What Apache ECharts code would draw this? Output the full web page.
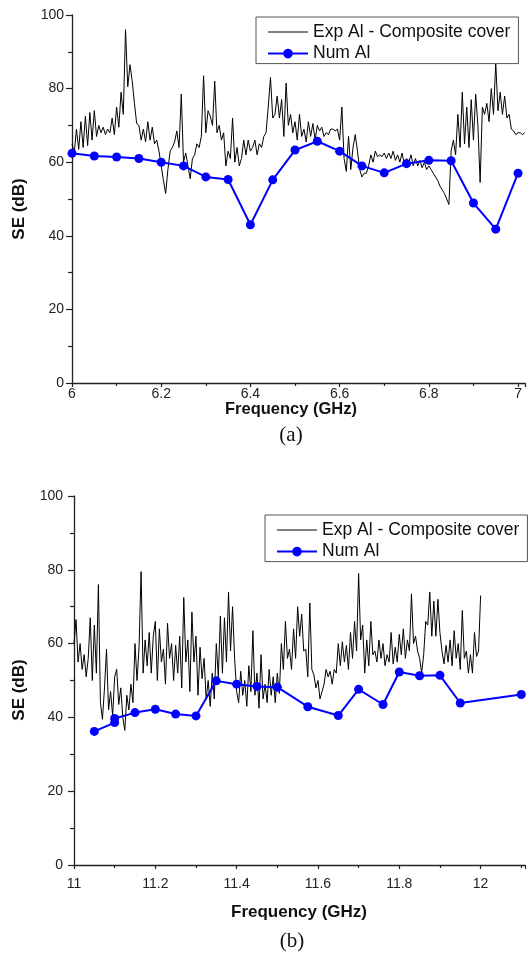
<!DOCTYPE html>
<html><head><meta charset="utf-8">
<script src="https://cdn.jsdelivr.net/npm/echarts@6/dist/echarts.min.js"></script>
<style>html,body{margin:0;padding:0;background:#fff}#c{width:528px;height:954px}</style>
</head><body><div id="c"></div>
<script>
// ---------- data ----------
const seriesNames = ['Exp Al - Composite cover', 'Num Al'];
const xTicksTop = [6, 6.2, 6.4, 6.6, 6.8, 7];
const xTicksBottom = [11, 11.2, 11.4, 11.6, 11.8, 12];
const yTicks = [0, 20, 40, 60, 80, 100];

// (a) measured sweep, 6.000 GHz onward, one reading every 0.005 GHz
const expTopStart = 6.0;
const expTopStep = 0.005;
const expTopSE = [
  65,62.5,69,63.5,71,64,72.5,64.5,73.5,66,
  74,67,70,68,69.5,67.5,69,68,72,67.5,
  75,69.5,79,73,96,80.5,86.5,82,76,70.5,
  70,66,69,65.5,71,66,69.5,65,66,63,
  59,55,51.5,58,63,64,65.5,68.5,64,78.5,
  60,62.5,59,55.5,61,62,65,64,67,83.5,
  68,74,72.5,70,82,68,70,66,68,59,
  63,61,72,60,64,59,61,66,62,66,
  63,64,66,62,65,64,67,68,75,83,
  72,73,78,72,77,67,81.5,70,73,68,
  71,66,73,67,69,65.5,71,67,70.5,66,
  70,68.5,69.5,67,68,67.5,69,69,68.5,69,
  66,75,61,57.5,67,58,64,67.5,63,58,
  56,57,57,59,62,60,63,61.5,62,61.5,
  62.5,61,62.5,61,63,60.5,62,60,62.5,59.5,
  61,60,62,59,61,59,60.5,58.5,60,58,
  59,58,57,56,55,53.5,52.5,51.5,50,48.5,
  63,66,62,73,64,79,65,75,64,77,
  66,78.5,70,54.5,75,73,76,71,80,73,
  87,74,79,73,78,72,73,69,68.5,67.5,
  68,68,67.5,68
];
// (a) numerical points
const numTopFreq = [6.0,6.05,6.1,6.15,6.2,6.25,6.3,6.35,6.4,6.45,6.5,6.55,6.6,6.65,6.7,6.75,6.8,6.85,6.9,6.95,7.0];
const numTopSE   = [62.4,61.7,61.4,61.0,60.0,59.0,56.0,55.3,43.0,55.2,63.3,65.7,63.0,59.0,57.1,59.6,60.5,60.4,48.9,41.8,57.0];

// (b) measured sweep, 11.000 GHz onward, one reading every 0.005 GHz
const expBotStart = 11.0;
const expBotStep = 0.005;
const expBotSE = [
  60,66.5,55,60,53,57,51,56,67,50,
  65,52,76,44,39.5,48,58.5,42,47,40.5,
  51,53,43.5,48,40,36.5,46,42,49,44,
  60,50,59,79.5,52,61,54,63,52,62,
  66,50,64,55,58.5,49,65.5,56,60,50,
  59.5,52,62,48,72.5,55,61,47,68.5,55,
  62,46,59,50.5,56,45,50,43,52,45,
  60,51,67.5,52,67,55,74,58,70,56,
  47,44,52.5,46,50,43,54,47,63.5,46,
  52,42.5,57,45,49,44,53,46,51,44,
  52,46.5,60,53,66,56,58.5,53,64,56,
  70,62,68,58,58.5,51,71,53,51.5,48,
  50,45,47,49,53,51,52.5,49,53,52,
  60,54,60.5,55,59.5,53,63,56,66,58,
  79,61,65,52,61,54,66,57,58,55,
  61,56,60,54,57,55,63,54.5,59,55,
  62.5,57,64,56,61,58,73.5,60,62,58,
  56,52,57,66,65,74,62,71.5,62,72,
  63,58,54.5,59.5,55,61,54,63.5,56,60,
  53,69,56,58,52,57,52,63,56.5,58,
  73
];
// (b) numerical points
const numBotFreq = [11.05,11.1,11.1,11.15,11.2,11.25,11.3,11.35,11.4,11.45,11.5,11.575,11.65,11.7,11.76,11.8,11.85,11.9,11.95,12.1];
const numBotSE   = [36.2,38.6,39.7,41.3,42.2,40.9,40.4,49.9,49.0,48.4,48.2,42.9,40.5,47.6,43.5,52.3,51.3,51.4,43.9,46.2];

// ---------- build ----------
function pairs(xs, ys){ return ys.map((y,i)=>[xs[i], y]); }
function sweep(start, step, ys){ return ys.map((y,i)=>[+(start + i*step).toFixed(4), y]); }

const FONT = 'Liberation Sans';
const AX = '#222';

function xAxisCfg(gridIndex, min, max, margin, ticks){
  return {
    type:'value', gridIndex, min, max, interval:0.2,
    axisLine:{show:true, onZero:false, lineStyle:{color:AX, width:1.3}},
    axisTick:{show:true, inside:false, length:4, lineStyle:{color:AX, width:1.2}},
    minorTick:{show:true, splitNumber:2, length:3, lineStyle:{color:AX, width:1.2}},
    splitLine:{show:false},
    axisLabel:{margin, fontSize:14, color:AX, fontFamily:FONT,
      formatter: v => { const t = ticks.find(k => Math.abs(k - v) < 1e-6); return t === undefined ? '' : String(t); }}
  };
}
function yAxisCfg(gridIndex, margin){
  return {
    type:'value', gridIndex, min:yTicks[0], max:yTicks[yTicks.length-1], interval:yTicks[1]-yTicks[0],
    axisLine:{show:true, onZero:false, lineStyle:{color:AX, width:1.3}},
    axisTick:{show:true, inside:false, length:6, lineStyle:{color:AX, width:1.2}},
    minorTick:{show:true, splitNumber:2, length:4, lineStyle:{color:AX, width:1.2}},
    splitLine:{show:false},
    axisLabel:{margin, fontSize:14, color:AX, fontFamily:FONT}
  };
}
function legendCfg(left, top){
  return {
    data:[
      {name:seriesNames[0], itemStyle:{opacity:0, color:'transparent', borderWidth:0}, lineStyle:{width:1, color:'#000'}},
      {name:seriesNames[1]}
    ],
    orient:'vertical', left, top,
    itemWidth:40, itemHeight:12, itemGap:1.6,
    padding:[5,8,0,11],
    borderColor:'#555', borderWidth:1, backgroundColor:'#fff',
    textStyle:{fontSize:17.5, lineHeight:20, color:'#111', fontFamily:FONT},
    selectedMode:false
  };
}
function expSeries(idx, data){
  return {name:seriesNames[0], type:'line', xAxisIndex:idx, yAxisIndex:idx, data,
    showSymbol:false, symbol:'none', z:2,
    lineStyle:{color:'#000', width:1}, itemStyle:{color:'#000'}};
}
function numSeries(idx, data){
  return {name:seriesNames[1], type:'line', xAxisIndex:idx, yAxisIndex:idx, data,
    symbol:'circle', symbolSize:9, z:3,
    lineStyle:{color:'#0000ff', width:2}, itemStyle:{color:'#0000ff'}};
}
function txt(x, y, text, size, opts){
  return Object.assign({type:'text', x, y, silent:true,
    style:{text, fontSize:size, fontFamily:FONT, fontWeight:'bold', fill:'#111', align:'center', verticalAlign:'middle'}}, opts||{});
}

const topMax = 6 + 456/449;
const botMax = 11 + 454/409.3;

const chart = echarts.init(document.getElementById('c'), null, {renderer:'canvas'});
chart.setOption({
  animation:false,
  backgroundColor:'#fff',
  grid:[
    {left:72, top:15, width:456, height:368, containLabel:false},
    {left:74, top:496, width:454, height:369, containLabel:false}
  ],
  xAxis:[xAxisCfg(0, 6, topMax, 4, xTicksTop), xAxisCfg(1, 11, botMax, 12, xTicksBottom)],
  yAxis:[yAxisCfg(0, 8), yAxisCfg(1, 11)],
  legend:[legendCfg(256, 17), legendCfg(265, 515)],
  series:[
    expSeries(0, sweep(expTopStart, expTopStep, expTopSE)),
    numSeries(0, pairs(numTopFreq, numTopSE)),
    expSeries(1, sweep(expBotStart, expBotStep, expBotSE)),
    numSeries(1, pairs(numBotFreq, numBotSE))
  ],
  graphic:[
    txt(19, 209, 'SE (dB)', 17, {rotation:Math.PI/2}),
    txt(19.5, 690, 'SE (dB)', 17, {rotation:Math.PI/2}),
    txt(291, 409, 'Frequency (GHz)', 16.5),
    txt(299, 912, 'Frequency (GHz)', 17),
    {type:'text', x:291, y:435, silent:true, style:{text:'(a)', fontSize:21, fontFamily:'Liberation Serif', fill:'#111', align:'center', verticalAlign:'middle'}},
    {type:'text', x:292, y:941, silent:true, style:{text:'(b)', fontSize:21, fontFamily:'Liberation Serif', fill:'#111', align:'center', verticalAlign:'middle'}}
  ]
});
</script></body></html>
